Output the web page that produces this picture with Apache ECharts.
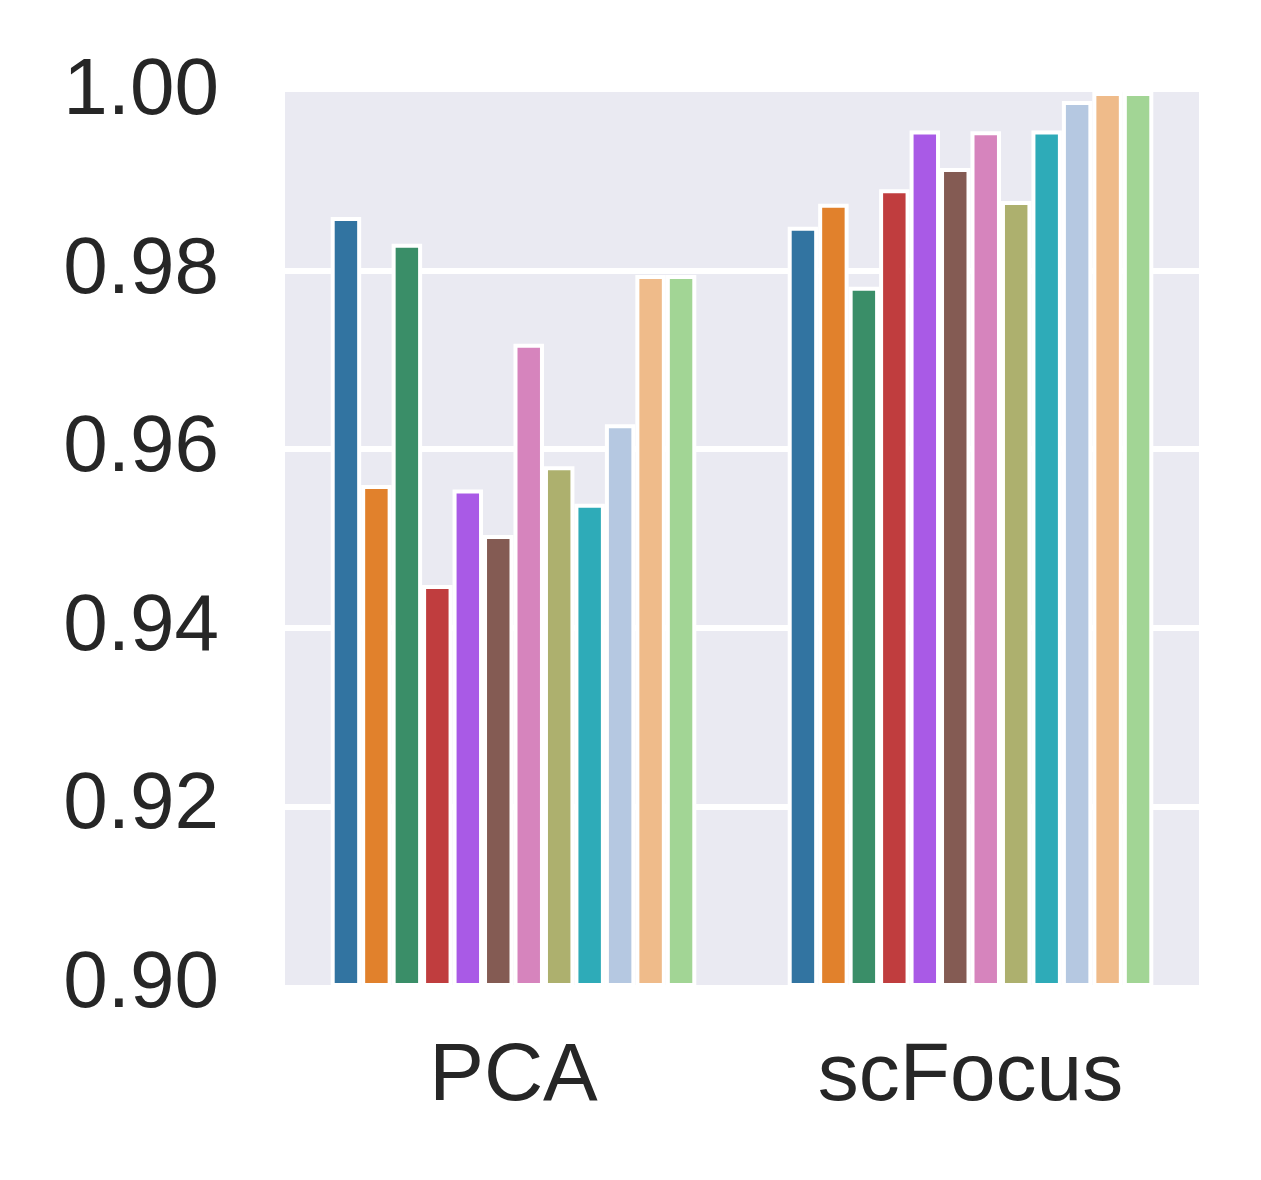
<!DOCTYPE html>
<html>
<head>
<meta charset="utf-8">
<script src="https://cdn.jsdelivr.net/npm/echarts@6/dist/echarts.min.js"></script>
<style>
  html, body { margin: 0; padding: 0; background: #fff; }
  #main { width: 1261px; height: 1180px; }
</style>
</head>
<body>
<div id="main"></div>
<script>
// categories on the x axis
var categories = ['PCA', 'scFocus'];
// one value per coloured bar, left to right inside each group
var pcaValues = [0.986, 0.956, 0.983, 0.9448, 0.9555, 0.9504, 0.9718, 0.9581, 0.9539, 0.9628, 0.9795, 0.9795];
var scFocusValues = [0.9849, 0.9875, 0.9782, 0.9891, 0.9957, 0.9915, 0.9956, 0.9878, 0.9957, 0.999, 1.0, 1.0];
var barColors = ['#3274a1', '#e1812c', '#3a8e68', '#c03d3e', '#a95ae6', '#845b53',
                 '#d684bd', '#adb06e', '#2eabb8', '#b5c8e1', '#efbb8a', '#a2d595'];
var yTicks = [0.90, 0.92, 0.94, 0.96, 0.98, 1.00];

var textColor = '#262626';
var fontFamily = '"Liberation Sans", Arial, sans-serif';

var series = [];
for (var i = 0; i < pcaValues.length; i++) {
  series.push({
    name: 'bar' + (i + 1),
    type: 'bar',
    data: [pcaValues[i], scFocusValues[i]],
    barGap: '0%',
    barCategoryGap: '20%',
    clip: true,
    itemStyle: {
      color: barColors[i],
      borderColor: '#ffffff',
      borderWidth: 4
    }
  });
}

var chart = echarts.init(document.getElementById('main'), null, { renderer: 'canvas' });
chart.setOption({
  backgroundColor: '#ffffff',
  animation: false,
  grid: {
    left: 285,
    right: 62,
    top: 92,
    bottom: 195,
    show: true,
    backgroundColor: '#eaeaf2',
    borderWidth: 0
  },
  xAxis: {
    type: 'category',
    data: categories,
    axisLine: { show: false },
    axisTick: { show: false },
    axisLabel: {
      color: textColor,
      fontFamily: fontFamily,
      fontSize: 82,
      margin: 51
    },
    splitLine: { show: false }
  },
  yAxis: {
    type: 'value',
    min: yTicks[0],
    max: yTicks[yTicks.length - 1],
    interval: 0.02,
    axisLine: { show: false },
    axisTick: { show: false },
    axisLabel: {
      color: textColor,
      fontFamily: fontFamily,
      fontSize: 80,
      margin: 66,
      formatter: function (v) { return v.toFixed(2); }
    },
    splitLine: {
      show: true,
      showMinLine: false,
      showMaxLine: false,
      lineStyle: { color: '#ffffff', width: 6 }
    }
  },
  series: series
});
</script>
</body>
</html>
